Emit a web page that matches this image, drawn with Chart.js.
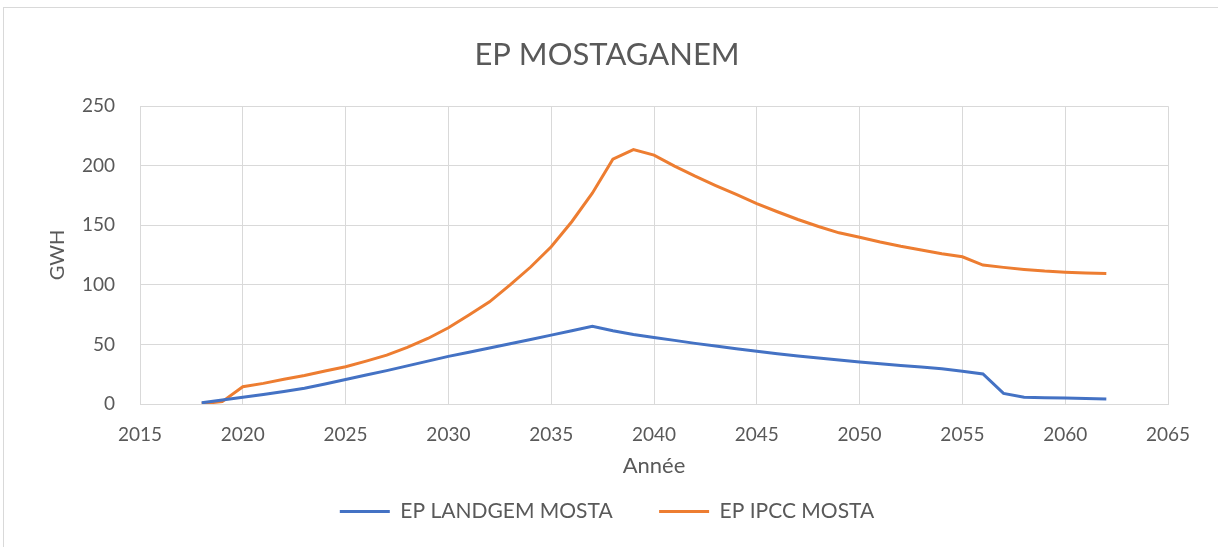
<!DOCTYPE html>
<html>
<head>
<meta charset="utf-8">
<script src="https://cdn.jsdelivr.net/npm/chart.js@4.4.1/dist/chart.umd.min.js"></script>
<style>
  html, body { margin: 0; padding: 0; background: #fff; }
  #wrap { width: 1218px; height: 547px; }
</style>
</head>
<body>
<div id="wrap"><canvas id="ep-chart" width="1218" height="547"></canvas></div>
<script>
// years 2018 -> 2062
const years = [];
for (let y = 2018; y <= 2062; y++) years.push(y);

const landgemMosta = [
  1, 3.3, 5.6, 8, 10.5, 13.3, 16.8, 20.5, 24.3, 28,
  32, 36, 40, 43.5, 47, 50.6, 54.2, 57.8, 61.5, 65.3,
  61.5, 58.4, 55.9, 53.4, 50.9, 48.7, 46.4, 44.2, 42.2, 40.3,
  38.6, 36.9, 35.2, 33.8, 32.4, 31, 29.6, 27.5, 25.2, 8.9,
  5.6, 5.3, 5, 4.7, 4.3
];

const ipccMosta = [
  0.3, 2, 14.5, 17.3, 20.7, 24, 27.7, 31.3, 36, 41,
  47.5, 55, 64, 74.7, 85.8, 100, 115, 132, 153, 177,
  205.5, 213.6, 208.9, 199.7, 191.3, 183.4, 175.9, 168.3, 161.4, 154.9,
  149, 143.7, 140, 136, 132.4, 129.2, 126.2, 123.6, 116.6, 114.7,
  113, 111.6, 110.7, 110, 109.6
];

const seriesNames = ['EP LANDGEM MOSTA', 'EP IPCC MOSTA'];
const textColor = '#595959';
const gridColor = '#D9D9D9';
const fontFamily = 'Lato, "Open Sans", sans-serif';

function toPoints(values) {
  return values.map((v, i) => ({ x: years[i], y: v }));
}

// draws the light frame around the whole chart
const frame = {
  id: 'frame',
  beforeDraw(chart) {
    const ctx = chart.ctx;
    ctx.save();
    ctx.fillStyle = '#fff';
    ctx.fillRect(0, 0, chart.width, chart.height);
    ctx.strokeStyle = gridColor;
    ctx.lineWidth = 1;
    ctx.strokeRect(3.5, 7.5, chart.width - 3, chart.height);
    ctx.restore();
  }
};

new Chart(document.getElementById('ep-chart').getContext('2d'), {
  type: 'line',
  data: {
    datasets: [
      {
        label: seriesNames[0],
        data: toPoints(landgemMosta),
        borderColor: '#4472C4',
        backgroundColor: '#4472C4',
        borderWidth: 3,
        pointRadius: 0,
        tension: 0
      },
      {
        label: seriesNames[1],
        data: toPoints(ipccMosta),
        borderColor: '#ED7D31',
        backgroundColor: '#ED7D31',
        borderWidth: 3,
        pointRadius: 0,
        tension: 0
      }
    ]
  },
  plugins: [frame],
  options: {
    responsive: false,
    animation: false,
    layout: { padding: { left: 46, right: 50, top: 0, bottom: 15 } },
    plugins: {
      title: {
        display: true,
        text: 'EP MOSTAGANEM',
        color: textColor,
        font: { family: fontFamily, size: 31, weight: 'normal' },
        padding: { top: 36, bottom: 33 }
      },
      legend: {
        position: 'bottom',
        labels: {
          color: textColor,
          font: { family: fontFamily, size: 21 },
          usePointStyle: true,
          pointStyle: 'line',
          pointStyleWidth: 50,
          padding: 15,
          // wider gap between the two entries, like the original
          generateLabels(chart) {
            const items = Chart.defaults.plugins.legend.labels.generateLabels(chart);
            items.forEach((it, i) => {
              if (i < items.length - 1) it.text = it.text + '\u2002\u2002\u2002';
            });
            return items;
          }
        }
      },
      tooltip: { enabled: false }
    },
    scales: {
      x: {
        type: 'linear',
        min: 2015,
        max: 2065,
        ticks: {
          stepSize: 5,
          color: textColor,
          font: { family: fontFamily, size: 19 },
          padding: 19,
          callback: (v) => String(v)
        },
        grid: { color: gridColor, drawTicks: false },
        border: { color: gridColor },
        title: {
          display: true,
          text: 'Année',
          color: textColor,
          font: { family: fontFamily, size: 22 },
          padding: { top: 0, bottom: 7 }
        },
        afterFit(scale) { scale.height = 82; }
      },
      y: {
        min: 0,
        max: 250,
        ticks: {
          stepSize: 50,
          color: textColor,
          font: { family: fontFamily, size: 19 },
          padding: 25
        },
        grid: { color: gridColor, drawTicks: false },
        border: { display: false },
        title: {
          display: true,
          text: 'GWH',
          color: textColor,
          font: { family: fontFamily, size: 20 },
          padding: { top: 0, bottom: 0 }
        },
        afterFit(scale) { scale.width = 94; }
      }
    }
  }
});
</script>
</body>
</html>
